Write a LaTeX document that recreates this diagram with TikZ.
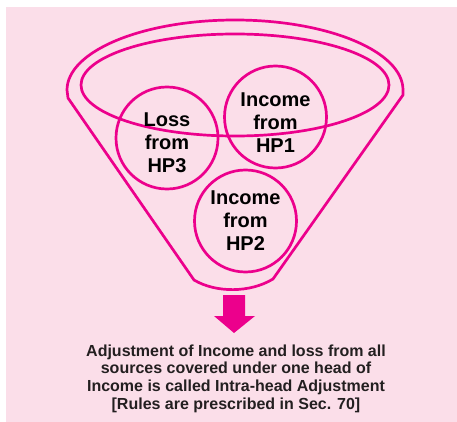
\documentclass[tikz,border=0pt]{standalone}
\usepackage{fontspec}
\setmainfont{Liberation Sans}
\definecolor{bgpink}{RGB}{251,222,233}
\definecolor{mag}{RGB}{236,0,140}
\definecolor{txt}{RGB}{35,31,32}
\begin{document}
\begin{tikzpicture}[x=1pt,y=-1pt,
  fun/.style={draw=mag,line width=2.7pt,line join=round},
  src/.style={circle,draw=mag,line width=2.7pt,minimum size=102pt,inner sep=0pt},
  lbl/.style={align=center,inner sep=0pt,font=\fontsize{20}{23}\selectfont\bfseries,text=black},
  note/.style={align=center,font=\fontsize{16}{17.7}\selectfont\bfseries,text=txt}]
\useasboundingbox (0,0) rectangle (457,422);
\fill[bgpink] (6,7) rectangle (457,422);
% funnel
\draw[fun] (68,98) -- (67,90) arc[start angle=180,end angle=360,x radius=168,y radius=70]
  -- (403,95) -- (273,279) .. controls (250,293) and (216,293) .. (194,280) -- cycle;
\draw[fun] (235,85) ellipse[x radius=154,y radius=51];
% sources
\node[src] (hp3) at (167,138) {};
\node[src] (hp1) at (275.5,117) {};
\node[src] (hp2) at (245.5,221) {};
\node[lbl] (t3) at ([yshift=-5pt]hp3.center) {Loss\\from\\HP3};
\node[lbl] (t1) at ([yshift=-6pt]hp1.center) {Income\\from\\HP1};
\node[lbl] (t2) at (hp2.center) {Income\\from\\HP2};
% arrow
\coordinate (atip) at (234,333);
\fill[mag] (223,295) -- (245,295) -- (245,316) -- (255,316) -- (atip) -- (214,316) -- (223,316) -- cycle;
\node[note,anchor=north] (txt) at (236,341) {Adjustment of Income and loss from all\\sources covered under one head of\\Income is called Intra-head Adjustment\\{[}Rules are prescribed in Sec. 70{]}};
\end{tikzpicture}
\end{document}
